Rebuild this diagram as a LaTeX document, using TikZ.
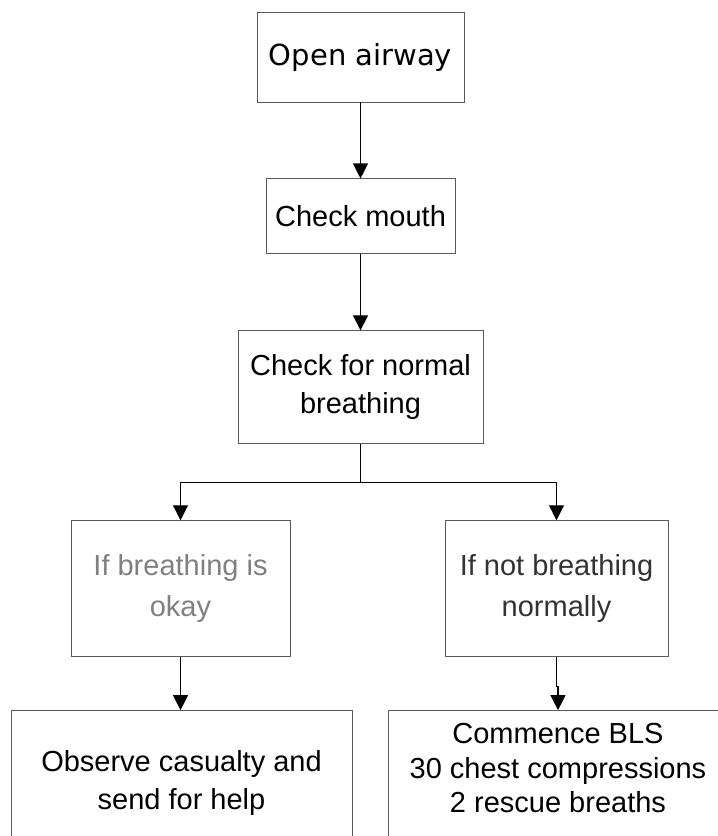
\documentclass[tikz,border=0pt]{standalone}
\usepackage{fontspec}
\setmainfont{Liberation Sans}
\newfontfamily\verdanafont{DejaVu Sans}
\usetikzlibrary{positioning,arrows.meta}

\begin{document}
\begin{tikzpicture}[
    font=\fontsize{29}{38}\selectfont,
    node distance=76pt,
    box/.style={draw=black!65, line width=0.9pt, inner sep=0pt, align=center},
    arr/.style={-{Triangle[length=15pt,width=15pt]}, line width=1.1pt}
  ]
    \useasboundingbox (0,0) rectangle (718pt,-836pt);
    \clip (0,0) rectangle (718pt,-836pt);
    \node[box, minimum width=207pt, minimum height=90pt,
          font=\verdanafont\fontsize{29}{38}\selectfont] (OA) at (360.5pt,-57pt) {Open airway};
    \node[box, minimum width=189pt, minimum height=75pt, below=of OA] (CM) {Check mouth};
    \node[box, minimum width=245pt, minimum height=113pt, below=of CM] (CN) {Check for normal\\breathing};
    \node[box, minimum width=219pt, minimum height=136pt, text=black!50,
          font=\fontsize{29}{41}\selectfont, below=of CN, xshift=-180pt] (OK) {If breathing is\\okay};
    \node[box, minimum width=223pt, minimum height=136pt, text=black!80,
          font=\fontsize{29}{41}\selectfont, below=of CN, xshift=196pt] (NB) {If not breathing\\normally};
    % bottom boxes run off the page
    \node[box, minimum width=341pt, inner ysep=40pt, text depth=120pt,
          below=53pt of OK, xshift=1pt] (OBS) {Observe casualty and\\send for help};
    \node[box, minimum width=340pt, inner ysep=13pt, text depth=120pt,
          font=\fontsize{29}{34.5}\selectfont,
          below=53pt of NB, xshift=1.5pt] (BLS) {Commence BLS\\30 chest compressions\\2 rescue breaths};
    \draw[arr] (OA) -- (CM);
    \draw[arr] (CM) -- (CN);
    \draw[arr] (CN.south) -- ++(0,-38pt) -| (OK.north);
    \draw[arr] (CN.south) -- ++(0,-38pt) -| (NB.north);
    \draw[arr] (OK.south) -- (OK.south |- OBS.north);
    \draw[arr] (NB.south) -- ++(0,-29pt) -| (BLS.north);
  \end{tikzpicture}
\end{document}
